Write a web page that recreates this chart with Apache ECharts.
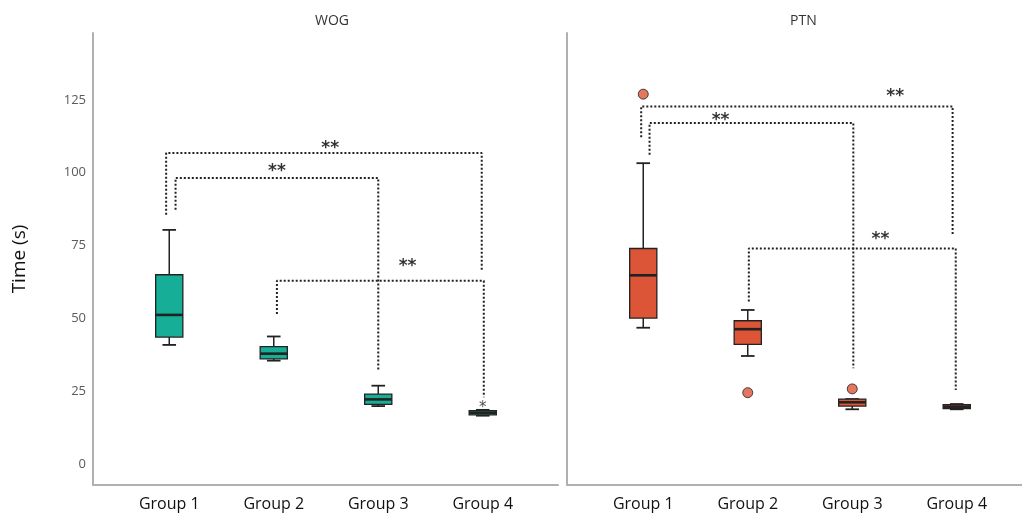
<!DOCTYPE html>
<html><head><meta charset="utf-8">
<script src="https://cdn.jsdelivr.net/npm/echarts@6/dist/echarts.min.js"></script>
<style>html,body{margin:0;padding:0;background:#fff}#c{width:1022px;height:517px}</style>
</head><body><div id="c"></div>
<script>
// ---------- data ----------
const categories = ['Group 1', 'Group 2', 'Group 3', 'Group 4'];
const panelTitles = ['WOG', 'PTN'];
const yTicks = [0, 25, 50, 75, 100, 125];
// [min, Q1, median, Q3, max]
const wogBoxes = [
  [40.9, 43.6, 51.2, 65.0, 80.4],
  [35.5, 36.1, 37.9, 40.3, 43.8],
  [19.9, 20.5, 22.2, 24.0, 26.9],
  [16.6, 16.9, 17.6, 18.3, 18.6]
];
const ptnBoxes = [
  [46.8, 50.1, 64.8, 74.0, 103.3],
  [37.1, 41.1, 46.3, 49.2, 52.9],
  [18.8, 19.9, 21.2, 22.3, 22.3],
  [18.8, 19.0, 19.7, 20.4, 20.6]
];
// [groupIndex, value]
const wogOutliers = [];
const wogExtremes = [[3, 20.6]];
const ptnOutliers = [[0, 127.0], [1, 24.5], [2, 25.8]];
const ptnExtremes = [];
// significance brackets: [xLeft, yLeftEnd, xRight, yRightEnd, yBar]
const wogBrackets = [
  [-0.03, 85.6, 2.99, 66.3, 106.8],
  [0.06, 87.3, 2.00, 32.3, 98.2],
  [1.03, 51.5, 3.01, 22.9, 62.9]
];
const wogStars = [[1.54, 109.6], [1.03, 101.8], [2.28, 69.0]];
const ptnBrackets = [
  [-0.02, 112.2, 2.96, 78.4, 122.8],
  [0.06, 106.2, 2.01, 32.9, 117.1],
  [1.01, 55.8, 2.99, 25.4, 74.0]
];
const ptnStars = [[2.41, 127.7], [0.74, 119.4], [2.27, 78.4]];
const starLabel = '**';

// ---------- chart ----------
const TEAL = '#17ae98', ORANGE = '#dc5537', EDGE = '#222';
const FONT = 'Open Sans';
const Y_MIN = -7.2, Y_MAX = 148;

function boxRender(color) {
  return function (params, api) {
    const x = api.value(0);
    const v = [1, 2, 3, 4, 5].map(i => api.value(i));
    const p = v.map(val => api.coord([x, val]));
    const band = api.size([1, 0])[0];
    const bw = band * 0.26, cw = band * 0.13;
    const cx = p[0][0];
    const ln = (x1, y1, x2, y2, w) => ({
      type: 'line', shape: { x1, y1, x2, y2 }, style: { stroke: EDGE, lineWidth: w }
    });
    return {
      type: 'group',
      children: [
        ln(cx, p[4][1], cx, p[3][1], 1.5),
        ln(cx, p[1][1], cx, p[0][1], 1.5),
        ln(cx - cw / 2, p[4][1], cx + cw / 2, p[4][1], 1.8),
        ln(cx - cw / 2, p[0][1], cx + cw / 2, p[0][1], 1.8),
        { type: 'rect', shape: { x: cx - bw / 2, y: p[3][1], width: bw, height: Math.max(p[1][1] - p[3][1], 1) },
          style: { fill: color, stroke: EDGE, lineWidth: 1.3 } },
        ln(cx - bw / 2, p[2][1], cx + bw / 2, p[2][1], 2.6)
      ]
    };
  };
}

const grids = [
  { left: 93, top: 33, width: 465, height: 452 },
  { left: 117, top: 33, width: 418, height: 452 },
  { left: 567, top: 33, width: 455, height: 452 },
  { left: 591, top: 33, width: 418, height: 452 }
];
const lineAxis = { show: true, onZero: false, lineStyle: { color: '#b0b0b0', width: 2 } };
const xAxes = [
  { gridIndex: 0, type: 'value', min: -0.730, max: 3.720, axisLine: lineAxis, axisTick: { show: false }, axisLabel: { show: false }, splitLine: { show: false } },
  { gridIndex: 1, type: 'category', data: categories, axisLine: { show: false, onZero: false }, axisTick: { show: false },
    axisLabel: { fontSize: 16, color: '#111', margin: 11, fontFamily: FONT } },
  { gridIndex: 2, type: 'value', min: -0.730, max: 3.624, axisLine: lineAxis, axisTick: { show: false }, axisLabel: { show: false }, splitLine: { show: false } },
  { gridIndex: 3, type: 'category', data: categories, axisLine: { show: false, onZero: false }, axisTick: { show: false },
    axisLabel: { fontSize: 16, color: '#111', margin: 11, fontFamily: FONT } }
];
const yAxes = [
  { gridIndex: 0, type: 'value', min: Y_MIN, max: Y_MAX, axisLine: lineAxis, axisTick: { show: false }, splitLine: { show: false },
    axisLabel: { customValues: yTicks, color: '#5a5a5a', fontSize: 13, margin: 7, fontFamily: FONT },
    name: 'Time (s)', nameLocation: 'middle', nameGap: 64, nameTextStyle: { fontSize: 19, color: '#111', fontFamily: FONT } },
  { gridIndex: 1, type: 'value', min: Y_MIN, max: Y_MAX, show: false },
  { gridIndex: 2, type: 'value', min: Y_MIN, max: Y_MAX, axisLine: lineAxis, axisTick: { show: false }, splitLine: { show: false }, axisLabel: { show: false } },
  { gridIndex: 3, type: 'value', min: Y_MIN, max: Y_MAX, show: false }
];

function panelSeries(boxes, outliers, extremes, brackets, stars, color, fullIdx, catIdx) {
  const s = [];
  brackets.forEach(b => {
    s.push({
      type: 'line', xAxisIndex: fullIdx, yAxisIndex: fullIdx, symbol: 'none', silent: true,
      data: [[b[0], b[1]], [b[0], b[4]], [b[2], b[4]], [b[2], b[3]]],
      lineStyle: { type: 'dotted', color: '#222', width: 2 }, z: 2
    });
  });
  s.push({
    type: 'scatter', xAxisIndex: fullIdx, yAxisIndex: fullIdx, symbolSize: 1,
    itemStyle: { color: 'rgba(0,0,0,0)' }, data: stars, silent: true,
    label: { show: true, formatter: starLabel, position: 'inside', offset: [0, 4], fontSize: 17, fontWeight: 'bold', color: '#000', fontFamily: 'DejaVu Sans' }
  });
  s.push({
    type: 'custom', xAxisIndex: catIdx, yAxisIndex: catIdx, renderItem: boxRender(color),
    encode: { x: 0, y: [1, 2, 3, 4, 5] }, data: boxes.map((b, i) => [i].concat(b)), z: 3
  });
  if (outliers.length) s.push({
    type: 'scatter', xAxisIndex: catIdx, yAxisIndex: catIdx, data: outliers, symbolSize: 10,
    itemStyle: { color: color, borderColor: EDGE, borderWidth: 1 }, z: 4
  });
  if (extremes.length) s.push({
    type: 'scatter', xAxisIndex: catIdx, yAxisIndex: catIdx, data: extremes, symbolSize: 1,
    itemStyle: { color: 'rgba(0,0,0,0)' }, z: 4,
    label: { show: true, formatter: '*', position: 'inside', offset: [0, 4], fontSize: 15, color: '#222', fontFamily: 'DejaVu Sans' }
  });
  return s;
}

const chart = echarts.init(document.getElementById('c'));
chart.setOption({
  animation: false,
  backgroundColor: '#fff',
  title: [
    { text: panelTitles[0], left: 310, top: 9, textStyle: { fontSize: 14, fontWeight: 'normal', color: '#333', fontFamily: FONT } },
    { text: panelTitles[1], left: 785, top: 9, textStyle: { fontSize: 14, fontWeight: 'normal', color: '#333', fontFamily: FONT } }
  ],
  grid: grids,
  xAxis: xAxes,
  yAxis: yAxes,
  series: [].concat(
    panelSeries(wogBoxes, wogOutliers, wogExtremes, wogBrackets, wogStars, TEAL, 0, 1),
    panelSeries(ptnBoxes, ptnOutliers, ptnExtremes, ptnBrackets, ptnStars, ORANGE, 2, 3)
  )
});
</script></body></html>
